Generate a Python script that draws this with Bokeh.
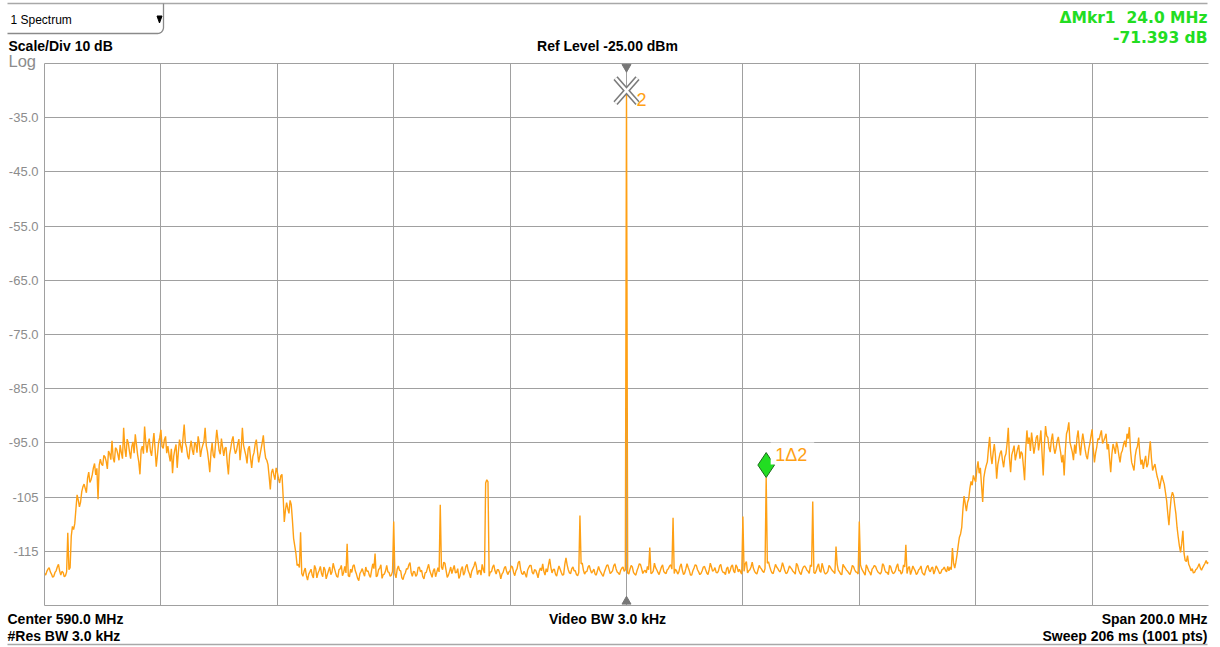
import numpy as np
from bokeh.plotting import figure
from bokeh.models import Range1d, FixedTicker, Grid
from bokeh.core.properties import value
from bokeh.embed import file_html
from bokeh.resources import INLINE

# ---- instrument settings ----
center_mhz = 590.0
span_mhz = 200.0
ref_level_dbm = -25.0
div_db = 10.0
sweep_points = 1001

# ---- trace levels (dBm), 1001 sweep points from low to high frequency ----
floor_left = [
    -119.1, -119.4, -118.7, -118.3, -118.0, -118.8, -119.2, -119.8, -119.6, -118.9,
    -118.6, -117.9, -117.4, -118.6, -119.4, -118.7, -118.9, -119.7, -119.5, -118.8,
]

hump_left = [
    -111.6, -118.4, -118.0, -112.2, -110.4, -111.0, -109.9, -107.2, -104.6, -105.5,
    -106.8, -105.9, -104.0, -103.1, -102.6, -103.4, -104.2, -101.5, -100.4, -102.3,
    -101.8, -100.9, -99.6, -98.8, -100.9, -99.7, -105.4, -99.1, -98.0, -98.9,
    -99.2, -97.3, -97.6, -98.4, -99.8, -96.5, -97.0, -98.1, -94.6, -97.8,
    -98.6, -95.9, -96.2, -97.1, -98.2, -95.4, -96.8, -97.9, -92.2, -96.0,
    -97.6, -94.3, -95.0, -96.6, -97.9, -95.7, -94.8, -96.9, -93.4, -95.3,
    -97.2, -98.5, -100.8, -96.3, -95.6, -97.0, -92.0, -94.9, -96.8, -95.1,
    -94.2, -96.5, -97.4, -95.2, -93.2, -96.1, -99.4, -97.3, -95.0, -94.0,
    -92.6, -95.7, -96.0, -94.4, -93.8, -96.9, -95.6, -97.2, -98.4, -96.1,
    -100.6, -97.5, -96.2, -95.3, -99.6, -96.7, -94.4, -95.6, -96.8, -94.1,
    -91.6, -95.0, -95.8, -97.4, -98.0, -95.9, -94.6, -96.3, -97.2, -94.9,
    -95.2, -96.8, -93.8, -95.1, -97.6, -96.2, -95.4, -94.7, -92.2, -95.5,
    -96.6, -98.3, -100.4, -96.9, -95.0, -97.3, -97.8, -95.0, -92.6, -94.5,
    -96.4, -97.1, -94.2, -95.8, -97.4, -96.0, -95.8, -98.7, -100.8, -97.2,
    -96.0, -94.6, -93.8, -95.9, -97.0, -96.4, -95.2, -94.3, -98.2, -96.0,
    -92.2, -95.4, -96.4, -97.3, -98.8, -96.1, -95.6, -97.8, -99.6, -97.5,
    -96.8, -95.2, -94.4, -96.6, -98.6, -97.4, -96.2, -95.0, -93.6, -96.3,
    -97.8, -98.2, -99.0, -101.2, -103.6, -100.5, -99.8, -100.9, -101.8, -99.6,
    -100.4, -101.6, -102.4, -101.1, -100.8, -104.8, -109.6, -107.4, -106.0, -107.1,
    -108.0, -105.6, -106.4, -109.3, -112.6, -114.0, -115.4, -117.6,
]

floor_mid = [
    -117.4, -118.0, -118.2, -119.1, -119.6, -118.7, -118.1, -119.5, -120.3, -119.2,
    -118.8, -118.3, -119.4, -119.9, -117.6, -118.2, -119.9, -119.0, -118.5, -117.8,
    -119.1, -119.7, -117.9, -118.4, -120.1, -119.3, -118.6, -117.9, -119.3, -118.8,
    -117.2, -118.1, -118.9, -119.6, -119.8, -118.4, -118.2, -117.6, -119.5, -118.9,
    -117.8, -119.0, -118.4, -119.5, -119.7, -118.3, -118.9, -117.7, -117.5, -118.6,
    -119.2, -120.0, -120.4, -119.1, -118.7, -118.2, -119.0, -119.6, -117.9, -118.7,
    -118.6, -119.4, -119.8, -118.5, -117.3, -118.2, -118.8, -119.7, -119.5, -118.4,
    -118.1, -117.5, -120.0, -119.3, -119.2, -118.6, -117.6, -118.8, -118.9, -119.6,
    -119.4, -118.7, -118.2, -119.1, -119.9, -118.3, -117.7, -118.5, -118.6, -119.9,
    -120.2, -119.4, -119.0, -118.2, -118.3, -117.5, -117.1, -118.9, -119.6, -118.7,
    -118.8, -119.6, -119.3, -118.0, -117.9, -118.8, -118.5, -119.7, -120.1, -119.0,
    -118.9, -118.1, -117.4, -118.6, -119.2, -119.8, -118.6, -118.2, -119.7, -118.9,
    -118.0, -118.8, -119.5, -117.9, -118.4, -117.0, -117.2, -118.5, -119.8, -119.4,
    -118.7, -117.9, -119.1, -118.3, -117.6, -119.0, -118.9, -118.2, -120.0, -119.5,
    -118.3, -117.8, -119.4, -118.9, -117.8, -117.4, -118.6, -119.1, -119.9, -118.7,
    -118.2, -117.7, -116.9, -117.8, -119.3, -118.6, -118.5, -119.4, -117.4, -118.4,
    -119.0, -119.6, -118.1, -117.4, -119.6, -118.8, -118.8, -117.9, -117.5, -118.6,
    -119.2, -118.4, -118.4, -119.0, -120.1, -119.2, -118.9, -118.1, -117.8, -118.7,
    -119.3, -118.8, -118.6, -117.7, -117.9, -118.9, -119.5, -118.6, -118.2, -117.1,
    -116.8, -118.3, -119.1, -119.3, -118.7, -119.2, -119.8, -118.5, -118.0, -117.6,
    -117.6, -118.9, -119.2, -118.4, -118.5, -119.1, -119.9, -118.7, -118.1, -118.6,
    -117.3, -118.7, -119.4, -118.2, -118.8, -117.5, -116.4, -117.9, -119.0, -118.4,
    -118.3, -119.2, -119.6, -118.5, -117.7, -118.3, -118.9, -119.4, -119.3, -117.4,
    -116.2, -117.5, -118.4, -119.0, -119.1, -118.2, -117.9, -118.6, -118.6, -119.3,
    -119.5, -118.9, -118.0, -117.3, -117.2, -118.5, -119.2, -118.8, -118.7, -117.9,
    -117.6, -118.4, -119.0, -118.7, -118.3, -119.2, -119.4, -118.6, -117.8, -118.5,
    -118.9, -119.3, -119.6, -118.8, -118.2, -117.6, -117.5, -118.3, -119.1, -118.9,
    -118.6, -117.7, -117.3, -118.2, -118.8, -119.0, -119.3, -118.5, -118.1, -117.9,
    -118.7, -118.4, -118.4, -119.0, -119.2, -118.3, -117.6, -117.9, -118.9, -119.2,
    -119.4, -118.6, -118.0, -117.3, -117.4, -118.2, -119.1, -118.7, -118.5, -119.0,
    -117.8, -118.4, -118.6, -119.1, -119.0, -118.6, -117.2, -118.0, -118.4, -118.9,
    -119.3, -118.6, -117.9, -117.5, -118.7, -119.0, -119.1, -118.4, -118.2, -117.7,
    -117.5, -118.3, -118.9, -119.1, -118.3, -118.6, -119.2, -118.8, -117.8, -117.3,
    -118.5, -119.3, -119.0, -118.2, -117.3, -118.0, -118.6, -119.4, -119.4, -118.6,
    -118.1, -117.5, -117.6, -118.4, -118.8, -119.3, -119.1, -118.6, -117.9, -117.8,
    -118.4, -119.0, -119.3, -118.4, -117.2, -117.9, -118.7, -118.5, -118.0, -118.9,
    -119.0, -118.6, -117.7, -117.4, -118.5, -118.9, -118.9, -119.3, -118.2, -117.9,
    -119.1, -118.6, -117.8, -117.5, -118.6, -119.0, -117.5, -117.9, -118.8, -118.3,
    -118.8, -119.2, -118.1, -118.7, -117.3, -116.9, -119.0, -118.6, -118.4, -117.9,
    -117.0, -118.1, -118.7, -119.0, -119.2, -118.4, -117.6, -118.0, -118.3, -118.7,
    -118.9, -118.2, -117.8, -117.2, -116.9, -117.8, -118.5, -119.0, -119.1, -118.3,
    -117.4, -117.9, -118.2, -118.6, -118.8, -118.1, -117.1, -117.8, -118.6, -119.1,
    -119.0, -118.4, -117.7, -118.0, -118.3, -118.7, -118.9, -119.2, -117.2, -117.6,
    -118.5, -119.0, -119.3, -118.4, -117.9, -117.7, -118.0, -118.5, -118.7, -119.1,
    -117.5, -117.8, -118.4, -118.9, -119.1, -118.6, -117.8, -117.3, -118.6, -118.9,
    -117.2, -118.0, -118.9, -119.2, -119.0, -118.7, -117.6, -117.9, -118.3, -118.6,
    -118.8, -119.1, -117.9, -117.4, -118.5, -118.8, -119.2, -119.3, -117.4, -117.8,
    -118.1, -118.5, -118.7, -119.0, -119.3, -118.6, -117.6, -117.8, -118.4, -118.8,
    -118.9, -119.2, -117.7, -117.5, -118.2, -118.6, -119.0, -119.4, -117.5, -118.0,
    -118.6, -118.9, -119.4, -118.3, -118.0, -117.6, -117.8, -118.4, -118.8, -119.0,
    -119.2, -118.8, -117.3, -117.6, -118.5, -118.9, -118.9, -119.3, -117.6, -117.9,
    -118.7, -119.1, -119.0, -118.6, -117.8, -117.3, -118.6, -118.5, -119.2, -118.9,
    -117.5, -117.9, -118.8, -119.1, -118.1, -117.8, -119.3, -118.6, -117.7, -118.2,
    -118.6, -119.3, -119.0, -118.4, -118.2, -117.7, -118.9, -119.2, -119.4, -118.5,
    -117.9, -117.6, -118.5, -118.8, -118.1, -117.9, -119.2, -118.6, -117.7, -118.1,
    -118.6, -119.1, -119.0, -118.4, -118.3, -117.9, -118.5, -118.8, -117.8, -118.6,
    -117.9, -118.4, -114.4, -117.2, -118.1, -117.0,
]

hump_right = [
    -115.6, -113.9, -112.4, -111.8, -110.6, -107.3, -104.8, -106.2, -107.6, -106.0,
    -105.3, -103.4, -102.1, -102.8, -101.0, -101.7, -102.2, -99.9, -98.4, -100.6,
    -99.6, -102.8, -105.9, -101.4, -100.1, -99.2, -98.5, -96.0, -93.9, -97.3,
    -98.9, -96.8, -95.2, -97.5, -101.6, -99.0, -97.9, -96.9, -96.4, -98.2,
    -99.5, -97.6, -97.0, -95.1, -92.2, -97.8, -100.4, -97.2, -96.4, -95.5,
    -98.2, -97.1, -96.1, -95.4, -97.9, -96.6, -97.0, -99.3, -101.9, -96.1,
    -92.7, -95.2, -94.0, -96.5, -93.1, -95.0, -97.0, -95.6, -94.0, -93.6,
    -96.4, -94.8, -92.7, -96.9, -101.0, -95.4, -91.9, -93.7, -94.0, -95.9,
    -96.7, -94.5, -93.3, -95.7, -97.0, -96.1, -94.6, -93.9, -95.5, -96.8,
    -98.6, -97.2, -101.0, -96.4, -93.3, -92.6, -91.2, -94.9, -95.8, -96.7,
    -98.2, -95.3, -97.0, -94.1, -92.7, -95.4, -97.3, -95.0, -93.3, -94.7,
    -96.2, -97.4, -98.0, -96.3, -95.2, -93.8, -92.5, -96.0, -98.6, -96.9,
    -95.8, -94.2, -94.4, -93.5, -92.7, -95.1, -94.6, -94.0, -93.3, -96.2,
    -95.2, -97.9, -100.4, -97.1, -95.2, -96.0, -97.0, -94.8, -95.8, -97.3,
    -98.6, -96.9, -96.4, -95.3, -94.6, -95.8, -93.3, -94.2, -92.1, -96.4,
    -98.6, -99.3, -100.1, -97.5, -96.2, -95.6, -94.0, -97.1, -99.0, -98.1,
    -99.8, -98.4, -97.4, -99.5, -98.9, -96.8, -94.7, -97.9, -100.1, -99.4,
    -98.9, -100.2, -101.3, -102.0, -103.5, -102.2, -101.0, -101.9, -102.6, -104.1,
    -105.6, -108.0, -110.2, -107.3, -105.0, -104.1, -104.7, -106.5,
]

floor_right = [
    -108.1, -110.6, -112.4, -114.0, -115.2, -113.5, -111.2, -115.4, -116.7, -116.9,
    -115.8, -117.4, -117.9, -118.6, -118.2, -119.0, -118.9, -118.4, -118.2, -117.8,
    -117.3, -118.1, -118.5, -118.0, -117.6, -117.2, -116.7, -117.3, -117.0,
]

# discrete spurs riding on the noise floor
spur_mhz = [534.0, 542.0, 546.8, 550.0, 558.0, 565.8, 566.0, 566.2, 582.0,
            594.0, 598.0, 610.0, 622.0, 626.0, 630.0, 638.0]
spur_dbm = [-111.5, -113.6, -115.4, -109.5, -106.4, -102.4, -101.8, -102.2, -108.4,
            -114.3, -108.8, -108.6, -105.8, -114.1, -109.5, -113.8]

# markers
mkr2_mhz = 590.0
mkr2_dbm = -30.0
dmkr1_mhz = 24.0
dmkr1_db = -71.393

# ---- assemble trace ----
f_lo = center_mhz - span_mhz / 2
f_hi = center_mhz + span_mhz / 2
trace = np.array(floor_left + hump_left + floor_mid + hump_right + floor_right, dtype=float)
freqs = np.linspace(f_lo, f_hi, sweep_points)
step_mhz = span_mhz / (sweep_points - 1)


def idx(f):
    return int(round((f - f_lo) / step_mhz))


for f, v in zip(spur_mhz, spur_dbm):
    trace[idx(f)] = v
mkr1_mhz = mkr2_mhz + dmkr1_mhz
mkr1_dbm = mkr2_dbm + dmkr1_db
trace[idx(mkr2_mhz)] = mkr2_dbm
trace[idx(mkr1_mhz)] = mkr1_dbm

# ---- canvas geometry ----
W, H = 1220, 647
PX_L, PX_R, PY_T, PY_B = 44, 1208, 63, 605
y_top = ref_level_dbm
y_bot = ref_level_dbm - 10 * div_db
PX_PER_MHZ = (PX_R - PX_L) / (f_hi - f_lo)
PX_PER_DB = (PY_B - PY_T) / (y_top - y_bot)


def fx(px):
    return f_lo + (px - PX_L) / PX_PER_MHZ


def fy(py):
    return y_top - (py - PY_T) / PX_PER_DB


ORANGE = "#FFA014"
GREEN = "#22DD22"
GRID = "#a0a0a0"
SANS = "Liberation Sans"

p = figure(width=W, height=H,
           x_range=Range1d(f_lo, f_hi), y_range=Range1d(y_bot, y_top),
           output_backend="svg", toolbar_location=None,
           x_axis_location=None, y_axis_location="left",
           min_border_left=PX_L, min_border_right=W - PX_R,
           min_border_top=PY_T, min_border_bottom=H - PY_B,
           background_fill_color="white", border_fill_color="white",
           outline_line_color=None)

# replace default grids with the 10x10 graticule
p.center = [r for r in p.center if not isinstance(r, Grid)]
p.add_layout(Grid(dimension=0, ticker=FixedTicker(ticks=[f_lo + 20 * k for k in range(10)]),
                  grid_line_color=GRID, grid_line_width=1))
p.add_layout(Grid(dimension=1, ticker=FixedTicker(ticks=[y_bot + 10 * k for k in range(11)]),
                  grid_line_color=GRID, grid_line_width=1))

# y axis labels
ytick_vals = [-35, -45, -55, -65, -75, -85, -95, -105, -115]
ytick_text = ["-35.0", "-45.0", "-55.0", "-65.0", "-75.0", "-85.0", "-95.0", "-105", "-115"]
ax = p.yaxis[0]
ax.ticker = FixedTicker(ticks=ytick_vals)
ax.major_label_overrides = dict(zip(ytick_vals, ytick_text))
ax.axis_line_color = None
ax.major_tick_line_color = None
ax.minor_tick_line_color = None
ax.major_tick_out = 0
ax.major_tick_in = 0
ax.major_label_standoff = 6
ax.major_label_text_font = SANS
ax.major_label_text_font_size = "13px"
ax.major_label_text_color = "#8c8c8c"

# frame edges
p.line([f_lo, f_hi], [y_top, y_top], line_color=GRID, line_width=1, level="overlay")
p.line([f_lo, f_hi], [y_bot, y_bot], line_color=GRID, line_width=1, level="overlay")
p.line([f_lo, f_lo], [y_bot, y_top], line_color=GRID, line_width=1, level="overlay")

# trace
p.line(freqs, trace, line_color=ORANGE, line_width=1.4)


def text(px, py, s, size, color="black", bold=True, align="left", font=SANS):
    p.text(x=[fx(px)], y=[fy(py)], text=[s], text_font=value(font),
           text_font_size=value(f"{size}px"),
           text_font_style="bold" if bold else "normal",
           text_color=color, text_align=align, text_baseline="middle", level="overlay")


# marker 2 (reference): hollow X
dx = 11 / PX_PER_MHZ
dy = 12.5 / PX_PER_DB
for col, lw in (("#7a7a7a", 5.5), ("white", 2.4)):
    p.segment(x0=[mkr2_mhz - dx, mkr2_mhz + dx], y0=[mkr2_dbm + dy, mkr2_dbm + dy],
              x1=[mkr2_mhz + dx, mkr2_mhz - dx], y1=[mkr2_dbm - dy, mkr2_dbm - dy],
              line_color=col, line_width=lw, level="overlay")
# marker position indicators at the graticule edges
p.scatter([mkr2_mhz], [fy(66.5)], marker="inverted_triangle", size=9, color="#777777", level="overlay")
p.scatter([mkr2_mhz], [fy(601)], marker="triangle", size=9, color="#777777", level="overlay")

# marker 1 (delta): green diamond sitting on the peak
p.scatter([mkr1_mhz], [mkr1_dbm + 12.5 / PX_PER_DB], marker="diamond", size=25,
          fill_color=GREEN, line_color="#1d6b1d", line_width=1, level="overlay")
# white patch behind the delta label
p.quad(left=[mkr1_mhz + 4.5 / PX_PER_MHZ], right=[mkr1_mhz + 48 / PX_PER_MHZ],
       bottom=[mkr1_dbm + 13 / PX_PER_DB], top=[mkr1_dbm + 35 / PX_PER_DB],
       fill_color="white", line_color=None, level="overlay")
p.text(x=[mkr1_mhz + 9 / PX_PER_MHZ], y=[mkr1_dbm + 23 / PX_PER_DB], text=["1\u03942"],
       text_font=value(SANS), text_font_size=value("18px"), text_color=ORANGE,
       text_align="left", text_baseline="middle", level="overlay")
p.text(x=[mkr2_mhz + 10 / PX_PER_MHZ], y=[mkr2_dbm - 8.5 / PX_PER_DB], text=["2"],
       text_font=value(SANS), text_font_size=value("18px"), text_color=ORANGE,
       text_align="left", text_baseline="middle", level="overlay")

# ---- header / footer ----
SEP = "#a8a8a8"
p.line([fx(7), fx(1207)], [fy(3), fy(3)], line_color=SEP, line_width=1.5, level="overlay")
p.line([fx(7), fx(1207)], [fy(644), fy(644)], line_color=SEP, line_width=1.5, level="overlay")
t = np.linspace(0, np.pi / 2, 8)
tab_x = [7, 157] + list(157 + 6 * np.sin(t)) + [163]
tab_y = [33, 33] + list(27 + 6 * np.cos(t)) + [3]
p.line([fx(v) for v in tab_x], [fy(v) for v in tab_y], line_color="#8a8a8a",
       line_width=1.3, level="overlay")
p.patch([fx(156.5), fx(161.5), fx(159)], [fy(15.5), fy(15.5), fy(22.5)],
        color="black", level="overlay")

text(10, 19.5, "1 Spectrum", 12, bold=False)
text(8, 45, "Scale/Div 10 dB", 14)
text(8, 60, "Log", 16.5, color="#8c8c8c", bold=False)
text(607, 45, f"Ref Level {ref_level_dbm:.2f} dBm", 14, align="center")
text(1207, 17.5, f"\u0394Mkr1\u00a0 {dmkr1_mhz:.1f} MHz", 15.5, color=GREEN, align="right",
     font="DejaVu Sans")
text(1207, 37.5, f"{dmkr1_db:.3f} dB", 15.5, color=GREEN, align="right", font="DejaVu Sans")

text(7, 618, f"Center {center_mhz:.1f} MHz", 14)
text(7, 635.5, "#Res BW 3.0 kHz", 14)
text(607, 618, "Video BW 3.0 kHz", 14, align="center")
text(1207, 618, f"Span {span_mhz:.1f} MHz", 14, align="right")
text(1207, 635.5, "Sweep 206 ms (1001 pts)", 14, align="right")

open("out.html", "w").write(file_html(p, INLINE))
